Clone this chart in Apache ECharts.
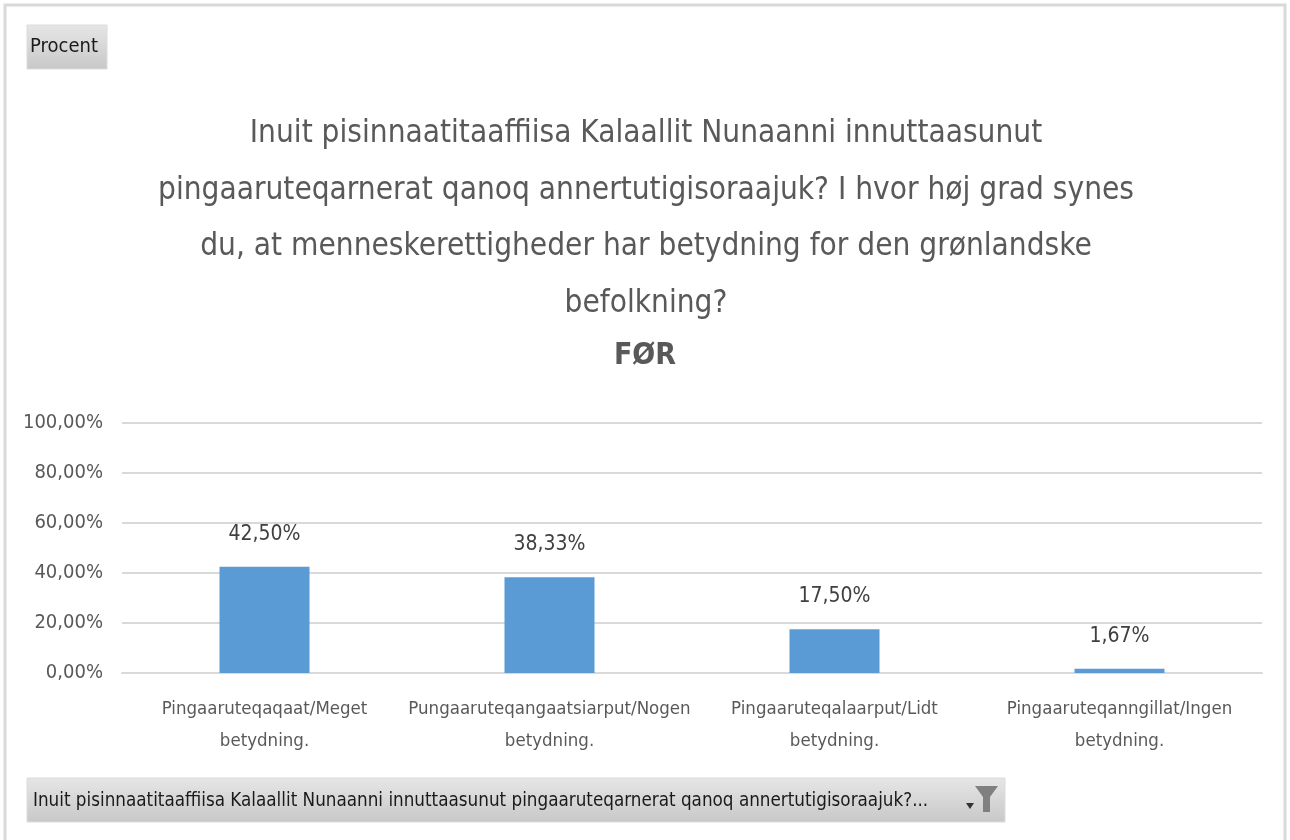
<!DOCTYPE html>
<html><head><meta charset="utf-8">
<script src="https://cdn.jsdelivr.net/npm/echarts@6/dist/echarts.min.js"></script>
<style>html,body{margin:0;padding:0;background:#fff}#c{width:1290px;height:840px}</style>
</head><body><div id="c"></div>
<script>
var categories = ["Pingaaruteqaqaat/Meget\nbetydning.", "Pungaaruteqangaatsiarput/Nogen\nbetydning.", "Pingaaruteqalaarput/Lidt\nbetydning.", "Pingaaruteqanngillat/Ingen\nbetydning."];
var values = [42.50, 38.33, 17.50, 1.67];
var yTicks = [0, 20, 40, 60, 80, 100];
var titleText = "Inuit pisinnaatitaaffiisa Kalaallit Nunaanni innuttaasunut\npingaaruteqarnerat qanoq annertutigisoraajuk? I hvor høj grad synes\ndu, at menneskerettigheder har betydning for den grønlandske\nbefolkning?";
var subTitle = "FØR";
var fieldButton = "Procent";
var filterButton = "Inuit pisinnaatitaaffiisa Kalaallit Nunaanni innuttaasunut pingaaruteqarnerat qanoq annertutigisoraajuk?...";

var FONT = "'Liberation Sans Narrow','DejaVu Sans Condensed','Noto Sans',sans-serif";
function pct(v){ return v.toFixed(2).replace('.', ',') + '%'; }

var chart = echarts.init(document.getElementById('c'), null, {renderer:'canvas'});
chart.setOption({
  backgroundColor: '#ffffff',
  animation: false,
  title: [{
    text: titleText,
    left: 646, top: 106, padding: 0,
    textAlign: 'center',
    textStyle: {fontFamily: FONT, fontSize: 31.3, fontWeight: 'normal', color: '#595959', lineHeight: 56.5}
  },{
    text: subTitle,
    left: 645, top: 341, padding: 0,
    textAlign: 'center',
    textStyle: {fontFamily: FONT, fontSize: 30, fontWeight: 'bold', color: '#595959'}
  }],
  grid: {left: 122, right: 28, top: 423, bottom: 167, containLabel: false},
  xAxis: {
    type: 'category', data: categories,
    axisLine: {show: true, lineStyle: {color: '#d9d9d9', width: 2}},
    axisTick: {show: false},
    axisLabel: {fontFamily: FONT, fontSize: 18.5, color: '#595959', lineHeight: 32, margin: 20, interval: 0}
  },
  yAxis: {
    type: 'value', min: 0, max: 100, interval: 20,
    axisLine: {show: false}, axisTick: {show: false},
    splitLine: {lineStyle: {color: '#d9d9d9', width: 2}},
    axisLabel: {fontFamily: FONT, fontSize: 20, color: '#595959', margin: 19,
      formatter: function(v){ return yTicks.indexOf(v) >= 0 ? pct(v) : ''; }}
  },
  series: [{
    type: 'bar', data: values, barWidth: 90,
    itemStyle: {color: '#5b9bd5'},
    label: {show: true, position: 'top', distance: 22, fontFamily: FONT, fontSize: 21, color: '#404040',
      formatter: function(p){ return pct(p.value); }}
  }],
  graphic: [
    {type: 'rect', shape: {x: 5, y: 5, width: 1280, height: 840}, style: {fill: 'none', stroke: '#d9d9d9', lineWidth: 3}, silent: true},
    {type: 'rect', shape: {x: 27, y: 25, width: 80, height: 44},
      style: {fill: new echarts.graphic.LinearGradient(0,0,0,1,[{offset:0,color:'#e6e6e6'},{offset:1,color:'#c8c8c8'}]), stroke: '#dcdcdc', lineWidth: 1}},
    {type: 'text', x: 64, y: 47, style: {text: fieldButton, fontFamily: FONT, fontSize: 20, fill: '#1a1a1a', align: 'center', verticalAlign: 'middle'}},
    {type: 'rect', shape: {x: 27, y: 778, width: 978, height: 44},
      style: {fill: new echarts.graphic.LinearGradient(0,0,0,1,[{offset:0,color:'#e6e6e6'},{offset:1,color:'#c8c8c8'}]), stroke: '#dcdcdc', lineWidth: 1}},
    {type: 'text', x: 33, y: 801, style: {text: filterButton, fontFamily: FONT, fontSize: 18.7, fill: '#1a1a1a', align: 'left', verticalAlign: 'middle'}},
    {type: 'polygon', shape: {points: [[966,803],[974,803],[970,809]]}, style: {fill: '#333'}},
    {type: 'polygon', shape: {points: [[975,786],[998,786],[990,797],[990,812],[983,812],[983,797]]}, style: {fill: '#808080'}}
  ]
});
</script>
</body></html>
